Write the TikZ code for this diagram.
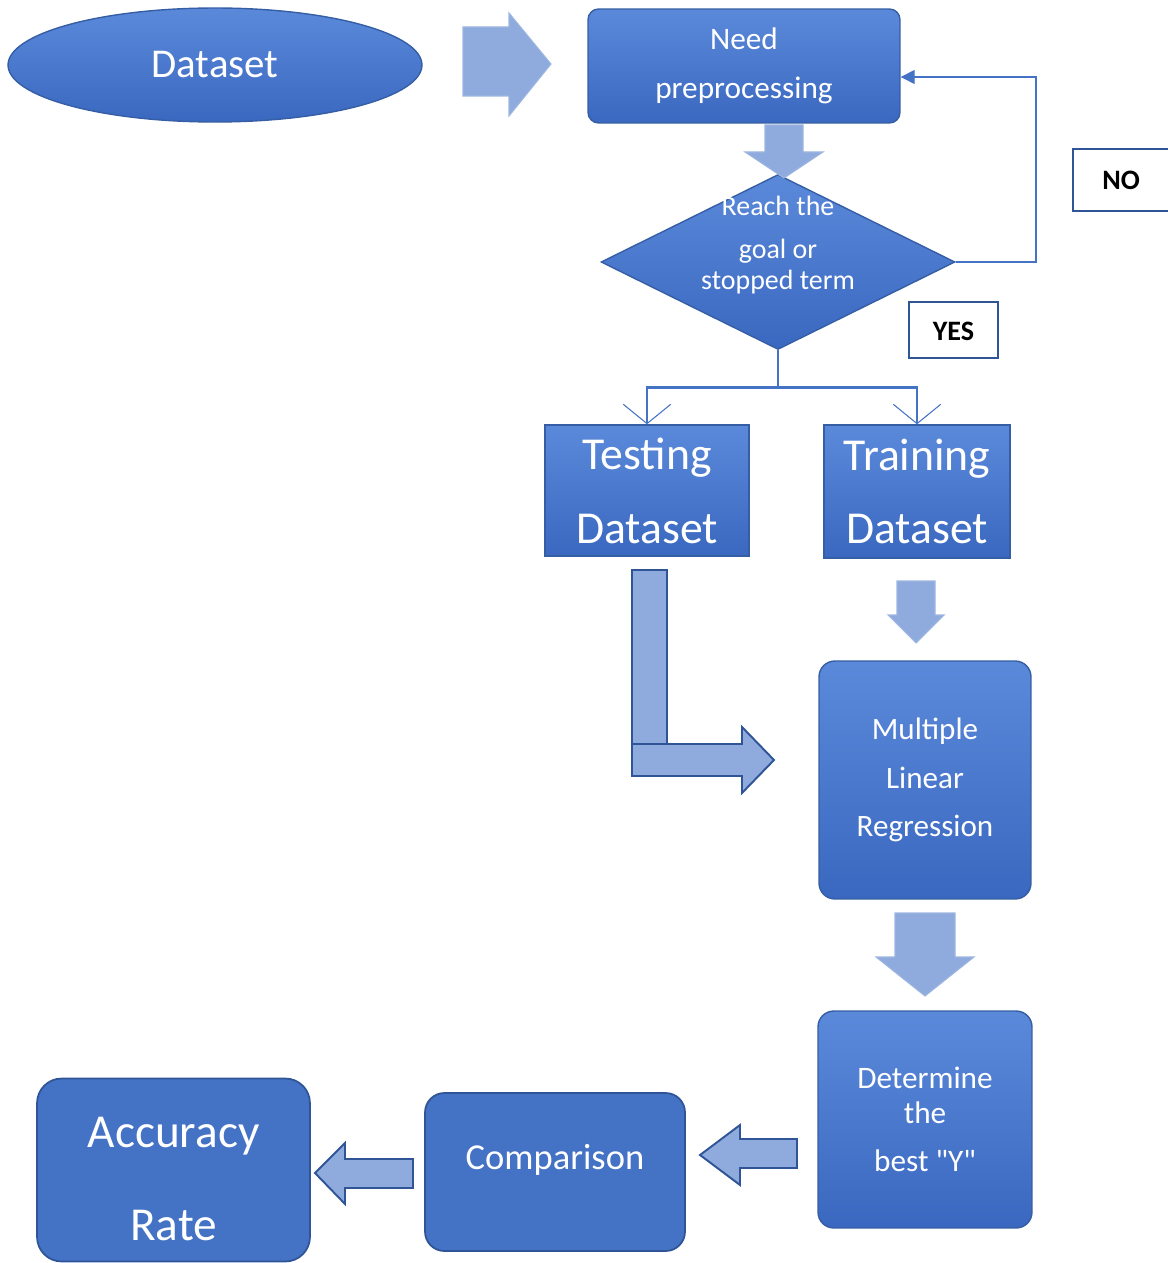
\documentclass[tikz,border=0pt]{standalone}
\usepackage{fontspec}
\setmainfont{Carlito}[Ligatures=TeXOff]
\usetikzlibrary{shapes.geometric,arrows.meta}
\definecolor{boxblue}{HTML}{4472C4}
\definecolor{boxtop}{HTML}{5B89DA}
\definecolor{boxbot}{HTML}{3A68C0}
\definecolor{boxedge}{HTML}{2F5597}
\definecolor{softedge}{HTML}{9DB6E2}
\definecolor{arrowblue}{HTML}{8FAADC}

\begin{document}
\begin{tikzpicture}[x=0.02cm,y=-0.02cm,
    bevel/.style={draw=boxedge!70!boxblue, line width=0.8pt, top color=boxtop, bottom color=boxbot, text=white, align=center, inner sep=0pt},
    flat/.style={draw=boxedge, line width=1pt, fill=boxblue, text=white, align=center, inner sep=0pt},
    tag/.style={draw=boxedge, line width=1.2pt, fill=white, font=\fontsize{16}{19}\selectfont\bfseries, inner sep=0pt},
    softarrow/.style={fill=arrowblue, draw=softedge, line width=0.6pt},
    darkarrow/.style={fill=arrowblue, draw=boxedge, line width=1.1pt, line join=miter},
    loopline/.style={draw=boxblue, line width=0.7pt},
    splitline/.style={draw=boxblue, line width=1.6pt}]
    \useasboundingbox (0,0) rectangle (1167,1263);

    %boxes
    \node[bevel, ellipse, minimum width=8.28cm, minimum height=2.28cm, font=\fontsize{23.3}{28}\selectfont] (data) at (215,65) {Dataset};
    \node[bevel, rounded corners=6pt, minimum width=6.24cm, minimum height=2.28cm, font=\fontsize{17.8}{27.8}\selectfont] (prep) at (744,66) {Need\\preprocessing};
    \node[bevel, diamond, minimum width=7.08cm, minimum height=3.5cm] (dia) at (778,262) {};
    \node[text=white, align=center, font=\fontsize{15.9}{17.6}\selectfont] (diatext) at (778,245) {Reach the\\[6.8pt]goal or\\stopped term};
    \node[bevel, minimum width=4.08cm, minimum height=2.62cm, font=\fontsize{26}{42}\selectfont] (test) at (647,490.5) {Testing\\Dataset};
    \node[bevel, minimum width=3.72cm, minimum height=2.66cm, font=\fontsize{26}{42}\selectfont] (train) at (917,491.5) {Training\\Dataset};
    \node[bevel, rounded corners=9pt, minimum width=4.24cm, minimum height=4.76cm, font=\fontsize{17.7}{27.8}\selectfont] (mlr) at (925,780) {Multiple\\Linear\\Regression};
    \node[bevel, rounded corners=9pt, minimum width=4.28cm, minimum height=4.34cm, font=\fontsize{17.8}{19.8}\selectfont] (best) at (925,1119.5) {Determine\\the\\[8pt]best "Y"};
    \node[flat, rounded corners=11pt, minimum width=5.2cm, minimum height=3.16cm, text height=15pt, text depth=18pt, font=\fontsize{20.8}{25}\selectfont] (comp) at (555,1172) {Comparison};
    \node[flat, rounded corners=14pt, minimum width=5.46cm, minimum height=3.66cm, font=\fontsize{26.9}{53}\selectfont] (acc) at (173.5,1170) {\rule{0pt}{27pt}Accuracy\\Rate};
    \node[tag, minimum width=1.92cm, minimum height=1.24cm] (no) at (1121,180) {NO};
    \node[tag, minimum width=1.78cm, minimum height=1.12cm, text height=12pt] (yes) at (953.5,330) {YES};

    %loop back
    \coordinate (loop) at (1036,77);
    \draw[loopline, -{Triangle[length=8pt,width=8pt]}] (dia.east) -| (loop) -- (prep.east |- loop);

    %split
    \path (dia.south) ++(0,37) coordinate (split);
    \draw[splitline] (dia.south) -- (split);
    \draw[splitline, -{Straight Barb[length=11pt,width=27pt,line width=0.6pt]}] (split) -| (test.north);
    \draw[splitline, -{Straight Barb[length=11pt,width=27pt,line width=0.6pt]}] (split) -| (train.north);

    %block arrows
    \draw[softarrow] (463,27) -- (509,27) -- (509,13) -- (551,64) -- (509,116) -- (509,96) -- (463,96) -- cycle;
    \draw[softarrow] (765,125) -- (803,125) -- (803,152) -- (823,152) -- (784,178) -- (745,152) -- (765,152) -- cycle;
    \draw[softarrow] (897,581) -- (935,581) -- (935,615) -- (944,615) -- (916,643) -- (888,615) -- (897,615) -- cycle;
    \draw[softarrow] (895,913) -- (955,913) -- (955,957) -- (974,957) -- (925,996) -- (876,957) -- (895,957) -- cycle;
    \draw[darkarrow] (632,570) rectangle (667,748);
    \draw[darkarrow] (632,744) -- (742,744) -- (742,727) -- (774,760) -- (742,793) -- (742,776) -- (632,776) -- cycle;
    \draw[darkarrow] (797,1139) -- (740,1139) -- (740,1125) -- (700,1155) -- (740,1185) -- (740,1168) -- (797,1168) -- cycle;
    \draw[darkarrow] (413,1159) -- (345,1159) -- (345,1143) -- (315,1173) -- (345,1204) -- (345,1188) -- (413,1188) -- cycle;
\end{tikzpicture}
\end{document}
